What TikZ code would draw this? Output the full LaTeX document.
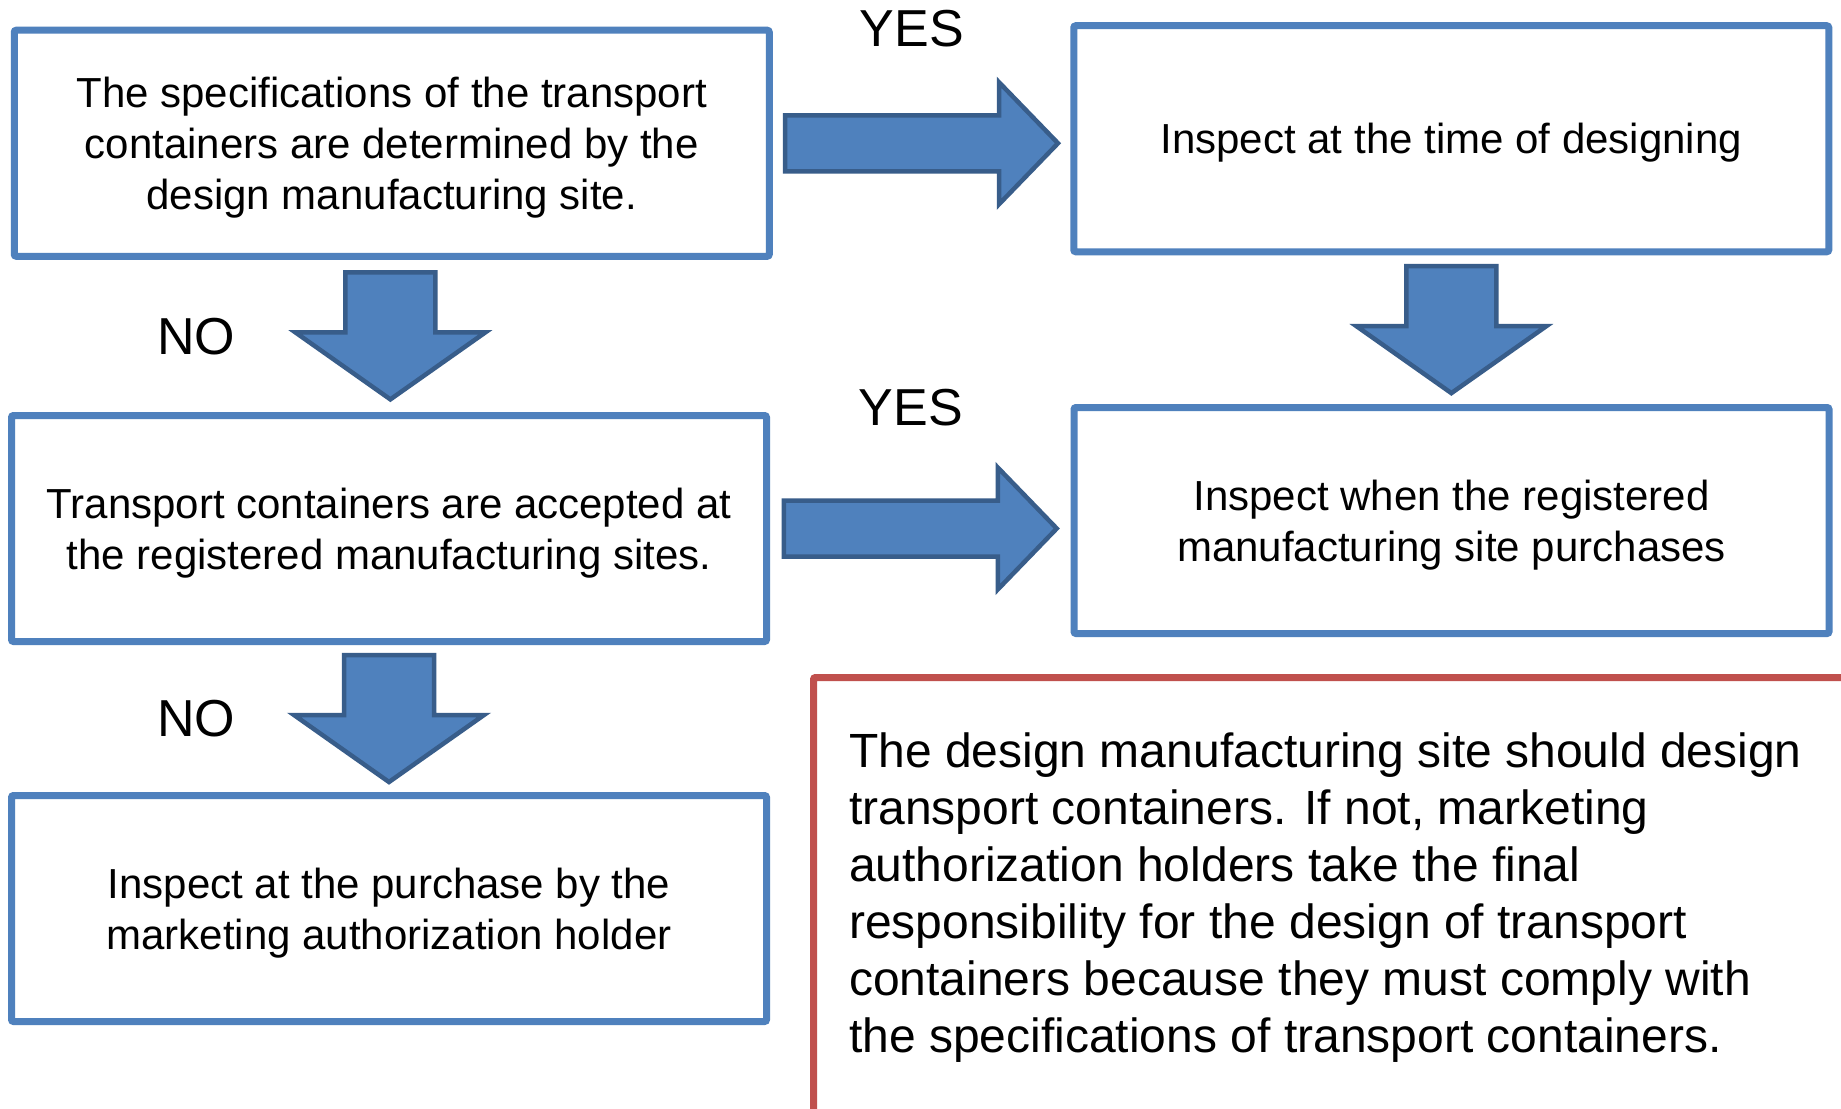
\documentclass[tikz,border=0pt]{standalone}
\usepackage{fontspec}
\setmainfont{Liberation Sans}
\usetikzlibrary{calc}
\definecolor{boxblue}{HTML}{4F81BD}
\definecolor{arrowedge}{HTML}{385D8A}
\definecolor{notered}{HTML}{C0504D}
\tikzset{
  box/.style={draw=boxblue, line width=7pt, rounded corners=2pt, fill=white,
    minimum width=755pt, minimum height=226pt, inner sep=0pt, align=center,
    text depth=0pt, font=\fontsize{42}{51}\selectfont},
  lab/.style={anchor=base, inner sep=0pt, font=\fontsize{52}{62}\selectfont},
  blockarrow/.style={fill=boxblue, draw=arrowedge, line width=4.5pt, line join=miter},
  darrow/.pic={\draw[blockarrow] (-45,-63.5) -- (45,-63.5) -- (45,-3.5) -- (95,-3.5) -- (0,63.5) -- (-95,-3.5) -- (-45,-3.5) -- cycle;},
  rarrow/.pic={\draw[blockarrow] (-136.5,-28) -- (77.5,-28) -- (77.5,-61) -- (136.5,0) -- (77.5,61) -- (77.5,28) -- (-136.5,28) -- cycle;}
}
\begin{document}
\begin{tikzpicture}[x=1pt,y=-1pt]
\useasboundingbox (0,0) rectangle (1841,1108);
\clip (0,0) rectangle (1841,1108);
\fill[white] (0,0) rectangle (1841,1108);

\node[box] (A) at (391.75,143.25) {The specifications of the transport\\containers are determined by the\\design manufacturing site.};
\node[box] (B) at (1451.25,138.75) {Inspect at the time of designing};
\node[box] (C) at (389,528.5) {Transport containers are accepted at\\the registered manufacturing sites.};
\node[box] (D) at (1451.5,520.5) {Inspect when the registered\\manufacturing site purchases};
\node[box] (E) at (389,908.5) {Inspect at the purchase by the\\marketing authorization holder};

\node[draw=notered, line width=7pt, rounded corners=2pt, anchor=north west,
  minimum width=1100pt, minimum height=500pt, inner sep=0pt] (F) at (810,674) {};
\node[anchor=base west, inner sep=0pt, align=left, font=\fontsize{48}{57}\selectfont] (Ft) at (849,1052)
  {The design manufacturing site should design\\transport containers. If not, marketing\\authorization holders take the final\\responsibility for the design of transport\\containers because they must comply with\\the specifications of transport containers.};

\coordinate (m1) at ($(A.east)!.5!(B.west)$);
\coordinate (m2) at ($(C.east)!.5!(D.west)$);
\pic at (m1 |- A.center) {rarrow};
\pic at (m2 |- C.center) {rarrow};
\pic at ($(A.south)!.5!(C.north)$) {darrow};
\pic at ($(B.south)!.5!(D.north)$) {darrow};
\pic at ($(C.south)!.5!(E.north)$) {darrow};

\node[lab] (yes1) at (912,47) {YES};
\node[lab] (yes2) at (911,425) {YES};
\node[lab] (no1) at (196,354) {NO};
\node[lab] (no2) at (196,736) {NO};
\end{tikzpicture}
\end{document}
